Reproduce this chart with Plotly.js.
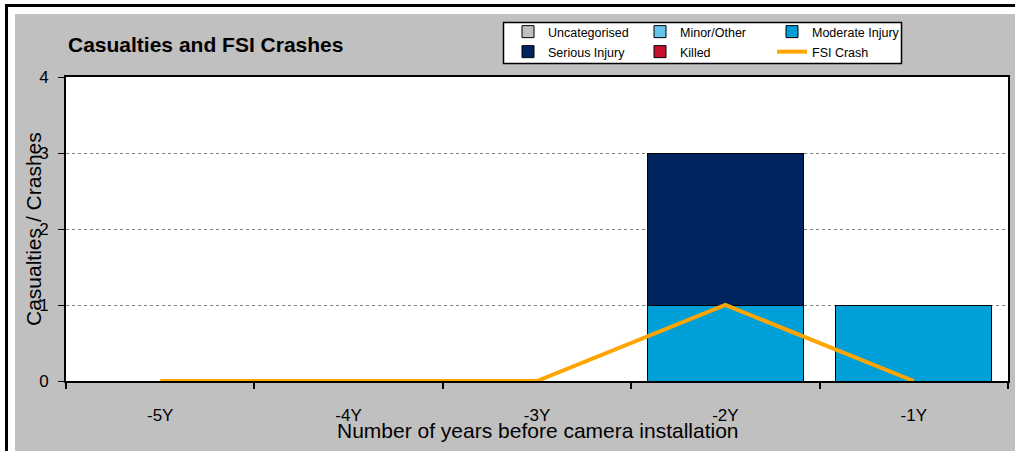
<!DOCTYPE html>
<html>
<head>
<meta charset="utf-8">
<script src="https://cdn.plot.ly/plotly-3.0.1.min.js"></script>
<style>html,body{margin:0;padding:0;background:#fff;}#chart{width:1015px;height:451px;}</style>
</head>
<body>
<div id="chart"></div>
<script>
const categories = ['-5Y', '-4Y', '-3Y', '-2Y', '-1Y'];
const uncategorised = [0, 0, 0, 0, 0];
const minorOther = [0, 0, 0, 0, 0];
const moderateInjury = [0, 0, 0, 1, 1];
const seriousInjury = [0, 0, 0, 2, 0];
const killed = [0, 0, 0, 0, 0];
const fsiCrash = [0, 0, 0, 1, 0];
const yTicks = [0, 1, 2, 3, 4];

const W = 1015, H = 451;
const M = {l: 66, r: 7, t: 77, b: 70};
const PW = W - M.l - M.r, PH = H - M.t - M.b;
const px = x => (x - M.l) / PW;
const py = y => (H - M.b - y) / PH;

const font = 'Arial, "Liberation Sans", sans-serif';
const edge = {color: '#000', width: 1};

function barTrace(name, vals, color, leg) {
  return {type: 'bar', name: name, x: categories, y: vals, width: 0.83,
    marker: {color: color, line: edge}, legend: leg, hoverinfo: 'skip'};
}

const traces = [
  barTrace('Uncategorised', uncategorised, '#C0C0C0', 'legend'),
  barTrace('Minor/Other', minorOther, '#66C4EC', 'legend'),
  barTrace('Moderate Injury', moderateInjury, '#009FD7', 'legend'),
  barTrace('Serious Injury', seriousInjury, '#00245F', 'legend2'),
  barTrace('Killed', killed, '#C8102E', 'legend2'),
  {type: 'scatter', mode: 'lines', name: 'FSI Crash', x: categories, y: fsiCrash,
   line: {color: '#FFA500', width: 4}, legend: 'legend2', hoverinfo: 'skip'}
];

const legendBase = {
  orientation: 'h', xanchor: 'left', yanchor: 'middle',
  bgcolor: 'rgba(0,0,0,0)', borderwidth: 0,
  font: {family: font, size: 12.5, color: '#000'},
  entrywidth: 87, entrywidthmode: 'pixels', traceorder: 'normal',
  itemclick: false, itemdoubleclick: false
};

const layout = {
  width: W, height: H,
  margin: M,
  paper_bgcolor: '#C0C0C0',
  plot_bgcolor: '#FFFFFF',
  barmode: 'stack',
  bargap: 0.17,
  showlegend: true,
  title: {text: '<b>Casualties and FSI Crashes</b>', font: {family: font, size: 21, color: '#000'},
          x: px(68), xanchor: 'left', xref: 'paper', y: 1 - 45 / H, yanchor: 'middle'},
  legend: Object.assign({}, legendBase, {x: px(508), y: py(32)}),
  legend2: Object.assign({}, legendBase, {x: px(508), y: py(52)}),
  xaxis: {
    type: 'category', range: [-0.5, 4.5], fixedrange: true,
    showline: true, linecolor: '#000', linewidth: 2, mirror: true,
    ticks: 'outside', tickson: 'boundaries', ticklen: 6, tickcolor: '#000', tickwidth: 2,
    ticklabelstandoff: 18,
    tickfont: {family: font, size: 17, color: '#000'},
    showgrid: false, zeroline: false
  },
  yaxis: {
    range: [0, 4], tickvals: yTicks, fixedrange: true,
    showline: true, linecolor: '#000', linewidth: 2, mirror: true,
    ticks: 'outside', ticklen: 6, tickcolor: '#000', tickwidth: 1,
    ticklabelstandoff: 6,
    tickfont: {family: font, size: 17, color: '#000'},
    showgrid: true, gridcolor: '#808080', griddash: 'dot', gridwidth: 1,
    zeroline: false
  },
  annotations: [
    {text: 'Number of years before camera installation', xref: 'paper', yref: 'paper',
     x: px(538), y: py(430), xanchor: 'center', yanchor: 'middle', showarrow: false,
     font: {family: font, size: 21, color: '#000'}},
    {text: 'Casualties / Crashes', xref: 'paper', yref: 'paper', textangle: -90,
     x: px(33), y: py(229), xanchor: 'center', yanchor: 'middle', showarrow: false,
     font: {family: font, size: 21, color: '#000'}}
  ],
  shapes: [
    {type: 'rect', xref: 'paper', yref: 'paper', x0: px(0), x1: px(15), y0: py(H), y1: py(0),
     fillcolor: '#fff', line: {width: 0}, layer: 'below'},
    {type: 'rect', xref: 'paper', yref: 'paper', x0: px(0), x1: px(W), y0: py(14), y1: py(0),
     fillcolor: '#fff', line: {width: 0}, layer: 'below'},
    {type: 'line', xref: 'paper', yref: 'paper', x0: px(6.5), x1: px(6.5), y0: py(5), y1: py(H),
     line: {color: '#000', width: 3}},
    {type: 'line', xref: 'paper', yref: 'paper', x0: px(5), x1: px(W), y0: py(5.5), y1: py(5.5),
     line: {color: '#000', width: 3}},
    {type: 'rect', xref: 'paper', yref: 'paper', x0: px(503.5), x1: px(901.5), y0: py(63.5), y1: py(22.5),
     fillcolor: '#fff', line: {color: '#000', width: 1.5}, layer: 'above'}
  ]
};

Plotly.newPlot('chart', traces, layout, {staticPlot: true, displayModeBar: false});
</script>
</body>
</html>
